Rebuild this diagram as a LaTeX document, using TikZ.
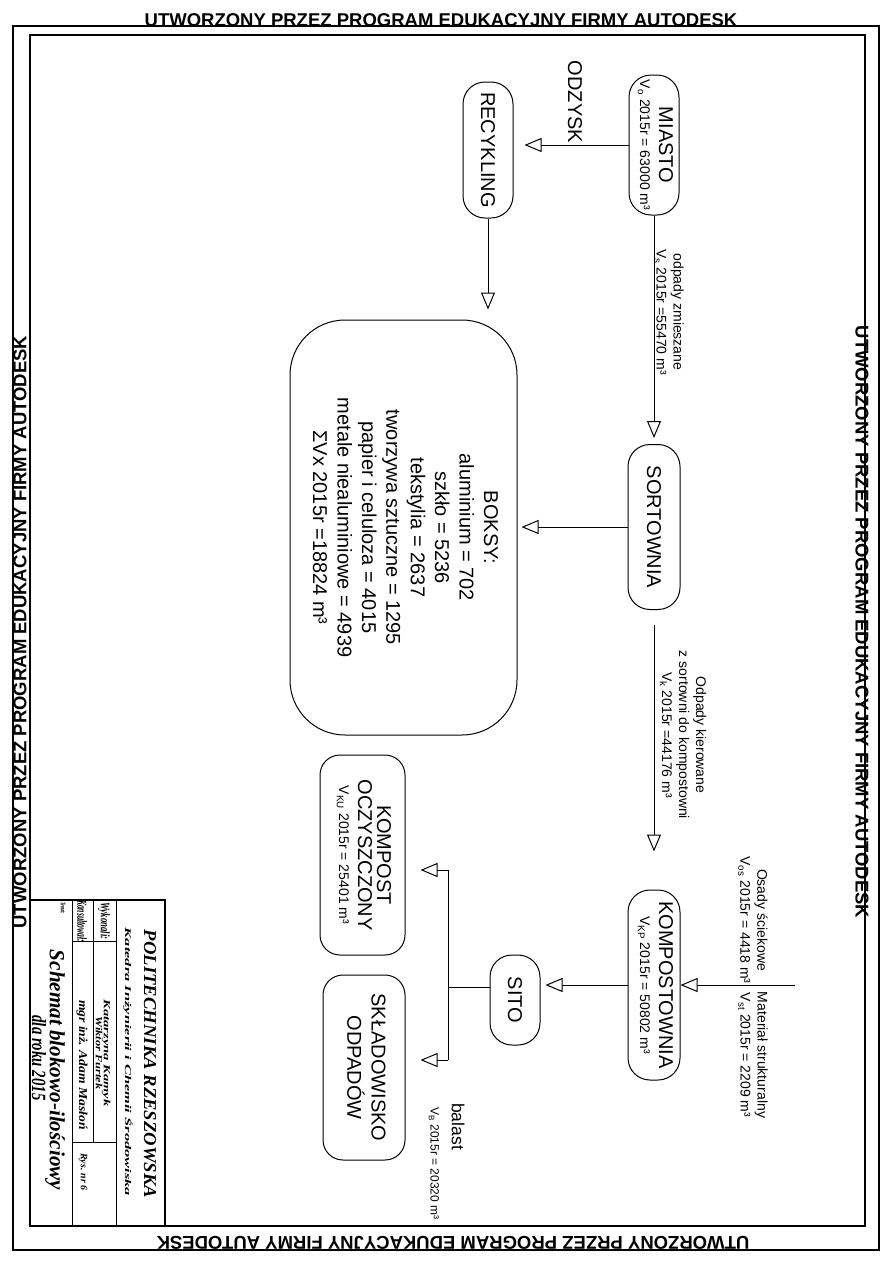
\documentclass[tikz,border=0pt]{standalone}
\usepackage{fontspec}
\setmainfont{Liberation Sans}
\newfontfamily\tbfont{Liberation Serif}
\usepackage{graphicx}
\usetikzlibrary{arrows.meta}
\newcommand{\fsbig}{\fontsize{20}{23}\selectfont}
\newcommand{\fssm}{\fontsize{14}{17}\selectfont}
\newcommand{\fsbox}{\fontsize{20}{24.4}\selectfont}
\newcommand{\tb}[3]{\resizebox{#1pt}{#2pt}{\tbfont\bfseries\itshape #3}}
\tikzset{
  pill/.style={draw, line width=1pt, rounded corners=22pt, inner sep=0pt},
  rbox/.style={draw, line width=1pt, rounded corners=20pt, inner sep=0pt},
  bigbox/.style={draw, line width=1pt, rounded corners=55pt, inner sep=0pt},
  arr/.style={line width=1pt, -{Triangle[open, length=17pt, width=14pt, line width=1pt]}},
  ln/.style={line width=1pt},
  frame/.style={line width=1.2pt},
  lbl/.style={rotate=-90, inner sep=0pt, align=center},
  brd/.style={inner sep=0pt, font=\bfseries\fontsize{18.5}{20}\selectfont},
  tbt/.style={rotate=-90, inner sep=0pt}
}
\begin{document}
\begin{tikzpicture}[x=1pt, y=-1pt]
\useasboundingbox (0,0) rectangle (893,1263);
% frames
\draw[frame] (13,26) rectangle (879,1250);
\draw[frame] (30,35) rectangle (865,1226);
\node[brd] (btop) at (441,20) {UTWORZONY PRZEZ PROGRAM EDUKACYJNY FIRMY AUTODESK};
\node[brd, rotate=180] (bbot) at (453,1243) {UTWORZONY PRZEZ PROGRAM EDUKACYJNY FIRMY AUTODESK};
\node[brd, rotate=90] (bleft) at (20,632) {UTWORZONY PRZEZ PROGRAM EDUKACYJNY FIRMY AUTODESK};
\node[brd, rotate=-90] (bright) at (862,622) {UTWORZONY PRZEZ PROGRAM EDUKACYJNY FIRMY AUTODESK};

% nodes
\node[pill, minimum width=50pt, minimum height=140pt] (miasto) at (654,145)
  {\rotatebox{-90}{\fssm\begin{tabular}{@{}c@{}}\fsbig MIASTO\\[2pt] V\textsubscript{o} 2015r = 63000 m³\end{tabular}}};
\node[pill, minimum width=50pt, minimum height=136pt] (recykling) at (488,150)
  {\rotatebox{-90}{\fsbig RECYKLING}};
\node[pill, minimum width=52pt, minimum height=165pt] (sortownia) at (654,527)
  {\rotatebox{-90}{\fsbig SORTOWNIA}};
\node[bigbox, minimum width=227pt, minimum height=415pt] (boksy) at (403.5,527.5)
  {\rotatebox{-90}{\fsbox\begin{tabular}{@{}c@{}}BOKSY:\\aluminium = 702\\szkło = 5236\\tekstylia = 2637\\tworzywa sztuczne = 1295\\papier i celuloza = 4015\\metale niealuminiowe = 4939\\ΣVx 2015r =18824 m³\end{tabular}}};
\node[pill, minimum width=52pt, minimum height=190pt] (kompostownia) at (654,985)
  {\rotatebox{-90}{\fssm\begin{tabular}{@{}c@{}}\fsbig KOMPOSTOWNIA\\[2pt] V\textsubscript{KP} 2015r = 50802 m³\end{tabular}}};
\node[pill, minimum width=50pt, minimum height=90pt] (sito) at (515,1000)
  {\rotatebox{-90}{\fsbig SITO}};
\node[rbox, minimum width=85pt, minimum height=200pt] (kompost) at (362.5,855)
  {\rotatebox{-90}{\fssm\begin{tabular}{@{}c@{}}\fsbig KOMPOST\\\fsbig OCZYSZCZONY\\[2pt] V\textsubscript{KU} 2015r = 25401 m³\end{tabular}}};
\node[rbox, minimum width=82pt, minimum height=185pt] (skladowisko) at (364,1067.5)
  {\rotatebox{-90}{\fsbig\begin{tabular}{@{}c@{}}SKŁADOWISKO\\ODPADÓW\end{tabular}}};

% connectors
\draw[arr, shorten >=11pt] (miasto.west) -- (miasto.west -| recykling.east);
\node[lbl, font=\fsbig] (odzysk) at (575,102) {ODZYSK};
\draw[arr, shorten >=10pt] (recykling.south) -- (recykling.south |- boksy.north);
\draw[arr, shorten >=6pt] (miasto.south) -- (sortownia.north);
\node[lbl, font=\fssm] (lzm) at (669,312) {odpady zmieszane\\V\textsubscript{s} 2015r =55470 m³};
\draw[arr, shorten >=4pt] (sortownia.west) -- (sortownia.west -| boksy.east);
\draw[arr, shorten <=15pt, shorten >=38pt] (sortownia.south) -- (kompostownia.north);
\node[lbl, font=\fssm] (lkier) at (683,735) {Odpady kierowane\\z sortowni do kompostowni\\V\textsubscript{k} 2015r =44176 m³};
\coordinate (src) at (795,985);
\draw[arr] (src) -- (src -| kompostownia.east);
\node[lbl, font=\fssm] (losady) at (753,920) {Osady ściekowe\\V\textsubscript{os} 2015r = 4418 m³};
\node[lbl, font=\fssm] (lmat) at (753,1055) {Materiał strukturalny\\V\textsubscript{st} 2015r = 2209 m³};
\draw[arr, shorten >=5pt] (kompostownia.west) -- (kompostownia.west -| sito.east);
\coordinate (jm) at (448,987);
\coordinate (jt) at (448,870);
\coordinate (jb) at (448,1060);
\draw[ln] (jm -| sito.west) -- (jm);
\draw[ln] (jt) -- (jb);
\draw[arr, shorten >=15pt] (jt) -- (jt -| kompost.east);
\draw[arr, shorten >=15pt] (jb) -- (jb -| skladowisko.east);
\node[rotate=-90, anchor=west, inner sep=0pt, font=\fontsize{17.5}{20}\selectfont] (lbal) at (458,1103) {balast};
\node[rotate=-90, anchor=west, inner sep=0pt, font=\fontsize{12}{14}\selectfont] (lvb) at (434,1107) {V\textsubscript{B} 2015r = 20320 m³};

% title block
\draw[frame] (30,900) rectangle (165,1226);
\draw[ln] (116,900) -- (116,1226);
\draw[ln] (72,900) -- (72,1226);
\draw[ln] (93,900) -- (93,1142);
\draw[ln] (72,941) -- (116,941);
\draw[ln] (72,1142) -- (116,1142);
\node[tbt] (t1) at (150,1064) {\tb{268}{12}{POLITECHNIKA RZESZOWSKA}};
\node[tbt] (t2) at (128,1062) {\tb{268}{7.5}{Katedra Inżynierii i Chemii Środowiska}};
\node[tbt] (t3) at (104,921) {\tb{37}{9}{Wykonali:}};
\node[tbt] (t4) at (106,1053) {\tb{107}{6.5}{Katarzyna Kamyk}};
\node[tbt] (t5) at (99,1053) {\tb{73}{6.5}{Wiktor Furtek}};
\node[tbt] (t6) at (83,1172) {\tb{37}{6.5}{Rys. nr 6}};
\node[tbt] (t7) at (82,921) {\tb{42}{9.5}{Konsultował:}};
\node[tbt] (t8) at (82,1065) {\tb{130}{8.5}{mgr inż. Adam Masłoń}};
\node[tbt] (t9) at (63,908) {\tb{12}{4.5}{Temat:}};
\node[tbt] (t10) at (55,1070) {\tb{240}{15}{Schemat blokowo-ilościowy}};
\node[tbt] (t11) at (39,1058) {\tb{85}{14}{dla roku 2015}};
\end{tikzpicture}
\end{document}
